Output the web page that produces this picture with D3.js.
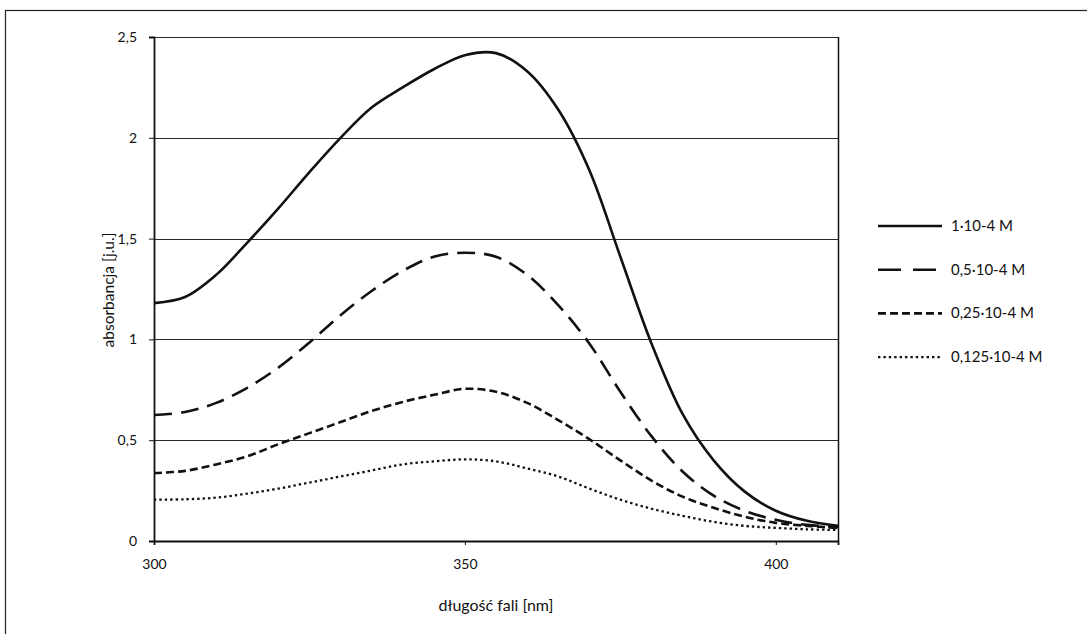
<!DOCTYPE html>
<html>
<head>
<meta charset="utf-8">
<script src="https://cdn.jsdelivr.net/npm/d3@7"></script>
<style>
  body { margin: 0; background: #fff; }
  text { font-family: Lato, "Open Sans", sans-serif; fill: #111; }
</style>
</head>
<body>
<div id="chart"></div>
<script>
// wavelength grid [nm]
var wavelengths = [300, 305, 310, 315, 320, 325, 330, 335, 340, 345, 350, 355,
    360, 365, 370, 375, 380, 385, 390, 395, 400, 405, 410]

// absorbance, one array per concentration
var conc1 = [1.18, 1.21, 1.32, 1.48, 1.65, 1.83, 2.00, 2.15, 2.25, 2.34, 2.41, 2.42,
    2.33, 2.14, 1.84, 1.41, 0.98, 0.63, 0.40, 0.245, 0.15, 0.10, 0.075]
var conc05 = [0.625, 0.64, 0.685, 0.76, 0.86, 0.985, 1.12, 1.24, 1.34, 1.41, 1.43, 1.41,
    1.32, 1.17, 0.98, 0.74, 0.52, 0.345, 0.225, 0.15, 0.105, 0.08, 0.07]
var conc025 = [0.337, 0.348, 0.38, 0.42, 0.48, 0.535, 0.59, 0.645, 0.69, 0.725, 0.755, 0.74,
    0.685, 0.60, 0.505, 0.40, 0.30, 0.22, 0.165, 0.12, 0.09, 0.075, 0.065]
var conc0125 = [0.205, 0.207, 0.215, 0.235, 0.26, 0.29, 0.32, 0.35, 0.38, 0.395, 0.405, 0.395,
    0.36, 0.32, 0.26, 0.205, 0.16, 0.125, 0.095, 0.075, 0.065, 0.058, 0.055]

var seriesNames = ["1·10-4 M", "0,5·10-4 M", "0,25·10-4 M", "0,125·10-4 M"]
var yTicks = [0, 0.5, 1, 1.5, 2, 2.5]
var xTicks = [300, 350, 400]

//---------------------------------------------------
// layout
//---------------------------------------------------
var width = 1087, height = 634
var plotLeft = 154, plotRight = 838, plotTop = 37, plotBottom = 541

var dashes = ["none", "18,9", "8,4", "2.4,3"]

var svg = d3.select("#chart").append("svg")
    .attr("width", width).attr("height", height)

// outer frame
svg.append("rect")
    .attr("x", 5.5).attr("y", 10.5)
    .attr("width", width + 10).attr("height", height + 10)
    .style("fill", "none").style("stroke", "#222").style("stroke-width", 1.2)

var x = d3.scaleLinear().domain([300, 410]).range([plotLeft, plotRight])
var y = d3.scaleLinear().domain([0, 2.5]).range([plotBottom, plotTop])

// gridlines
svg.append("g")
    .selectAll("line")
    .data(yTicks.slice(1))
    .enter()
    .append("line")
    .attr("x1", plotLeft).attr("x2", plotRight)
    .attr("y1", d => Math.round(y(d)) + 0.5)
    .attr("y2", d => Math.round(y(d)) + 0.5)
    .style("stroke", "#2a2a2a").style("stroke-width", 1.2)

// right border of the plot area
svg.append("line")
    .attr("x1", plotRight + 0.5).attr("x2", plotRight + 0.5)
    .attr("y1", plotTop).attr("y2", plotBottom)
    .style("stroke", "#111").style("stroke-width", 1.5)

// axes
var yAxis = svg.append("g")
    .attr("transform", "translate(" + plotLeft + ",0)")
    .call(d3.axisLeft(y).tickValues(yTicks).tickSize(5).tickPadding(12)
        .tickFormat(d => d3.format("~g")(d).replace(".", ",")))
var xAxis = svg.append("g")
    .attr("transform", "translate(0," + plotBottom + ")")
    .call(d3.axisBottom(x).tickValues(xTicks).tickSize(4).tickPadding(14)
        .tickFormat(d3.format("d")))

;[yAxis, xAxis].forEach(a => {
    a.select(".domain").style("stroke", "#111").style("stroke-width", 1.8)
    a.selectAll(".tick line").style("stroke", "#111")
    a.selectAll("text").style("font-size", "14px").style("font-family", "Lato, sans-serif").style("fill", "#111")
})

// axis titles
svg.append("text")
    .attr("x", (plotLeft + plotRight) / 2).attr("y", 611)
    .attr("text-anchor", "middle")
    .style("font-size", "16px")
    .text("długość fali [nm]")

svg.append("text")
    .attr("transform", "translate(114,290) rotate(-90)")
    .attr("text-anchor", "middle")
    .style("font-size", "15.5px")
    .text("absorbancja [j.u.]")

//------------------------------------------
// curves
//------------------------------------------
var allSeries = [conc1, conc05, conc025, conc0125]

var line = d3.line()
    .x((d, i) => x(wavelengths[i]))
    .y(d => y(d))
    .curve(d3.curveCatmullRom.alpha(0.5))

svg.append("g")
    .selectAll("path")
    .data(allSeries)
    .enter()
    .append("path")
    .attr("d", d => line(d))
    .style("fill", "none")
    .style("stroke", "#111")
    .style("stroke-width", (d, i) => i == 3 ? 2.3 : 2.6)
    .style("stroke-dasharray", (d, i) => dashes[i])

//------------------------------------------
// legend
//------------------------------------------
var legend = svg.append("g")
    .selectAll("g")
    .data(seriesNames)
    .enter()
    .append("g")
    .attr("transform", (d, i) => "translate(878," + (226 + i * 43.7) + ")")

legend.append("line")
    .attr("x1", 0).attr("x2", (d, i) => i == 1 ? 58 : 64)
    .attr("y1", 0).attr("y2", 0)
    .style("stroke", "#111")
    .style("stroke-width", (d, i) => i == 3 ? 2.3 : 2.6)
    .style("stroke-dasharray", (d, i) => i == 1 ? "23,12" : dashes[i])

legend.append("text")
    .attr("x", 73).attr("y", 5)
    .style("font-size", "15px")
    .text(d => d)
</script>
</body>
</html>
